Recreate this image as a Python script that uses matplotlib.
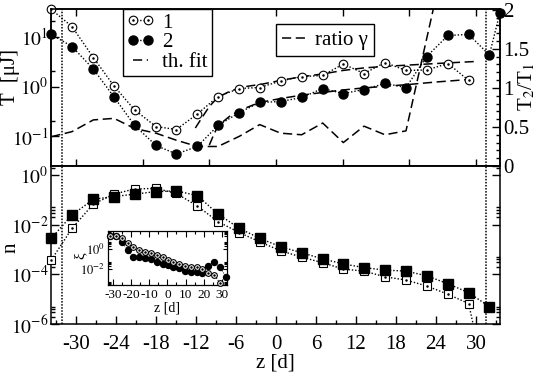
import matplotlib
matplotlib.use('Agg')
import matplotlib.pyplot as plt
import numpy as np
from matplotlib.ticker import FixedLocator, MultipleLocator, FuncFormatter, NullFormatter
from matplotlib.lines import Line2D
from matplotlib.legend_handler import HandlerTuple

plt.rcParams['font.family'] = ['Liberation Serif', 'DejaVu Serif']
plt.rcParams['mathtext.fontset'] = 'stix'
plt.rcParams['axes.unicode_minus'] = False

# ---------------- data ----------------
z = [-33.7, -30.6, -27.4, -24.3, -21.2, -18.0, -14.95, -11.8, -8.7, -5.5, -2.45,
     0.7, 3.85, 7.0, 10.1, 13.2, 16.35, 19.5, 22.6, 25.8, 28.9, 32.0, 33.6]

T1 = [34.7, 15.8, 3.80, 1.02, 0.339, 0.158, 0.138, 0.282, 0.631, 0.912, 0.955,
      1.29, 1.58, 1.66, 2.82, 1.82, 3.02, 2.09, 2.14, 2.88, 1.32]
T2 = [11.0, 6.31, 2.24, 0.617, 0.166, 0.0661, 0.0447, 0.0631, 0.166, 0.302, 0.479,
      0.501, 0.603, 0.912, 0.724, 0.871, 1.15, 0.955, 3.98, 10.5, 11.0, 4.27, 30.2]
ratio = [0.375, 0.44, 0.59, 0.61, 0.48, 0.42, 0.33, 0.25, 0.25, 0.38, 0.53,
         0.42, 0.40, 0.55, 0.30, 0.51, 0.40, 0.45, 1.63, 2.85]

fit1_z = [-12.1, -11.0, -10.0, -8.75, -7.0, -5.0, -2.0, 1.0, 4.0, 7.0, 10.0, 13.0, 16.0, 20.0, 24.0, 29.8]
fit1 = [0.148, 0.251, 0.398, 0.603, 0.794, 0.977, 1.12, 1.35, 1.58, 1.78, 2.09, 2.34, 2.51, 2.69, 2.88, 3.16]
fit2_z = [-10.0, -9.3, -8.65, -7.0, -5.5, -2.5, 0.7, 4.0, 7.0, 10.0, 13.0, 16.0, 20.0, 24.0, 29.8]
fit2 = [0.0676, 0.112, 0.166, 0.251, 0.331, 0.479, 0.575, 0.676, 0.759, 0.851, 0.933, 1.0, 1.10, 1.23, 1.41]

n1 = [3.8e-4, 7.08e-3, 6.76e-2, 0.17, 0.275, 0.288, 0.182, 5.62e-2, 1.32e-2, 4.79e-3, 2.04e-3,
      8.91e-4, 4.9e-4, 2.95e-4, 1.62e-4, 1.35e-4, 7.94e-5, 5.89e-5, 3.39e-5, 1.58e-5, 6.61e-6, 1e-9]
n2 = [2.82e-3, 2.45e-2, 0.105, 0.135, 0.17, 0.214, 0.229, 0.148, 2.69e-2, 7.08e-3, 2.82e-3,
      1.29e-3, 7.41e-4, 4.17e-4, 2.63e-4, 1.86e-4, 1.48e-4, 1.35e-4, 8.71e-5, 4.17e-5, 1.82e-5, 5.01e-6]

zi = [-31.4, -28.1, -25.0, -21.7, -18.8, -15.6, -12.4, -9.3, -6.0, -2.6, 0.5,
      3.3, 6.6, 9.7, 12.9, 16.2, 19.3, 22.6, 25.8, 29.1, 32.2]
xi1 = [20.0, 19.1, 11.7, 3.72, 1.48, 0.794, 0.537, 0.427, 0.251, 0.148, 0.0794,
       0.0468, 0.0295, 0.0214, 0.017, 0.017, 0.00933, 0.00372, 0.00251, 0.000372]
xi2 = [21.4, 21.4, 4.68, 0.794, 0.17, 0.148, 0.135, 0.1, 0.0468, 0.0295, 0.0251,
       0.017, 0.0117, 0.0063, 0.00537, 0.00537, 0.00427, 0.0214, 0.0537, 0.0148, 0.0017]

vlines_z = [-32.1, 31.45]

top_xticks = [-30, -20, -10, 0, 10, 20, 30]

# ---------------- styles ----------------
DOT = (0, (1, 1.4))
DASH = (0, (6, 3))
VDOT = (0, (1, 1))
FS = 15

W, H = 545, 372
fig = plt.figure(figsize=(W / 100, H / 100), dpi=100)

def fr(x0, y0, x1, y1):
    return [x0 / W, 1 - y1 / H, (x1 - x0) / W, (y1 - y0) / H]

ax1 = fig.add_axes(fr(51, 9, 500, 166))
ax3 = fig.add_axes(fr(51, 166, 500, 324))
for a in (ax1, ax3):
    for s in a.spines.values():
        s.set_linewidth(1.1)

XL = (-33.75, 33.6)

def open_markers(ax, x, y, mk, ms, lo=None):
    x = np.asarray(x); y = np.asarray(y)
    m = np.ones(len(x), bool) if lo is None else (y >= lo)
    ax.plot(x[m], y[m], ls='none', marker=mk, mfc='white', mec='k', ms=ms, mew=0.8, clip_on=False, zorder=4)
    ax.plot(x[m], y[m], ls='none', marker='.', ms=1.6, color='k', clip_on=False, zorder=5)

def filled_markers(ax, x, y, mk, ms, lo=None):
    x = np.asarray(x); y = np.asarray(y)
    m = np.ones(len(x), bool) if lo is None else (y >= lo)
    ax.plot(x[m], y[m], ls='none', marker=mk, color='k', ms=ms, clip_on=False, zorder=4)

# ---------------- top panel ----------------
ax1.set_yscale('log')
ax1.set_xlim(*XL)
ax1.set_ylim(0.0257, 35.5)
z1 = z[:len(T1)]
ax1.plot(z1, T1, ls=DOT, color='k', lw=1.0)
ax1.plot(z, T2, ls=DOT, color='k', lw=1.0)
ax1.plot(fit1_z, fit1, ls=DASH, color='k', lw=1.1)
ax1.plot(fit2_z, fit2, ls=DASH, color='k', lw=1.1)
open_markers(ax1, z1, T1, 'o', 6.2)
filled_markers(ax1, z, T2, 'o', 6.5)
for v in vlines_z:
    ax1.axvline(v, ls=VDOT, color='k', lw=1.1)

ax1.xaxis.set_major_locator(FixedLocator(top_xticks))
ax1.xaxis.set_minor_locator(FixedLocator([]))
ax1.tick_params(axis='x', which='major', direction='in', top=True, bottom=True,
                length=5, width=1, labelbottom=False)
ax1.yaxis.set_major_locator(FixedLocator([1e-2, 1e-1, 1, 10, 100]))
ax1.yaxis.set_minor_locator(FixedLocator([2e-2, 2e-1, 2, 20]))
ax1.yaxis.set_major_formatter(FuncFormatter(lambda v, p: r'$10^{%d}$' % round(np.log10(v))))
ax1.yaxis.set_minor_formatter(NullFormatter())
ax1.tick_params(axis='y', which='major', direction='in', length=6, width=1, labelsize=14, pad=2)
ax1.tick_params(axis='y', which='minor', direction='in', length=3, width=1)
ax1.set_ylabel('T  [μJ]', fontsize=FS)
ax1.yaxis.set_label_coords(-0.068, 0.57)

ax2 = ax1.twinx()
ax2.set_ylim(0, 2.01)
ax2.set_xlim(*XL)
ax2.plot(z[:len(ratio)], ratio, ls=DASH, color='k', lw=1.1)
ax2.yaxis.set_major_locator(MultipleLocator(0.5))
ax2.yaxis.set_minor_locator(MultipleLocator(0.1))
ax2.yaxis.set_major_formatter(FuncFormatter(lambda v, p: '%g' % v))
ax2.tick_params(axis='y', which='major', direction='in', length=6, width=1, labelsize=FS, pad=2)
ax2.tick_params(axis='y', which='minor', direction='in', length=3, width=1)
ax2.set_ylabel(r'T$_2$/T$_1$', fontsize=FS)
ax2.yaxis.set_label_coords(1.036, 0.5)
for s in ax2.spines.values():
    s.set_linewidth(1.1)

# legends
h1 = (Line2D([], [], ls=DOT, color='k', lw=1.0, marker='o', mfc='white', mec='k', ms=6.2, mew=0.8),
      Line2D([], [], ls='none', marker='.', color='k', ms=1.6))
h2 = Line2D([], [], ls=DOT, color='k', lw=1.0, marker='o', ms=6.5)
h3 = Line2D([], [], ls=DASH, color='k', lw=1.1)
leg1 = ax1.legend([h1, h2, h3], ['1', '2', 'th. fit'],
                  handler_map={tuple: HandlerTuple(ndivide=1, pad=0)},
                  loc='upper left', bbox_to_anchor=((122.7 - 51) / 449, 1.0),
                  borderaxespad=0, numpoints=2, fontsize=FS, handlelength=1.3,
                  handletextpad=0.4, labelspacing=0.0, borderpad=0.2,
                  fancybox=False, framealpha=1, edgecolor='k')
leg1.get_frame().set_linewidth(1.0)
h4 = Line2D([], [], ls=DASH, color='k', lw=1.1)
leg2 = ax2.legend([h4], ['ratio γ'], loc='upper left',
                  bbox_to_anchor=((275.7 - 51) / 449, (166 - 24) / 157),
                  borderaxespad=0, fontsize=FS, handlelength=1.1, handletextpad=0.5,
                  borderpad=0.3, fancybox=False, framealpha=1, edgecolor='k')
leg2.get_frame().set_linewidth(1.0)

# ---------------- bottom panel ----------------
ax3.set_yscale('log')
ax3.set_xlim(*XL)
NLO, NHI = 1e-6, 2.3
ax3.set_ylim(NLO, NHI)
ax3.plot(z[:len(n1)], n1, ls=DOT, color='k', lw=1.0)
ax3.plot(z[:len(n2)], n2, ls=DOT, color='k', lw=1.0)
open_markers(ax3, z[:len(n1)], n1, 's', 6.0, lo=NLO)
filled_markers(ax3, z[:len(n2)], n2, 's', 7.2, lo=NLO)
for v in vlines_z:
    ax3.axvline(v, ls=VDOT, color='k', lw=1.1)
ax3.xaxis.set_major_locator(MultipleLocator(6))
ax3.xaxis.set_minor_locator(MultipleLocator(3))
ax3.tick_params(axis='x', which='major', direction='in', length=6, width=1, labelsize=FS, pad=8)
ax3.tick_params(axis='x', which='minor', direction='in', length=3, width=1)
ax3.yaxis.set_major_locator(FixedLocator([1e-6, 1e-4, 1e-2, 1]))
ax3.yaxis.set_minor_locator(FixedLocator([k * 10.0 ** e for e in (-6, -4, -2, 0) for k in (2, 3, 4, 5)]))
ax3.yaxis.set_major_formatter(FuncFormatter(lambda v, p: r'$10^{%d}$' % round(np.log10(v))))
ax3.yaxis.set_minor_formatter(NullFormatter())
ax3.tick_params(axis='y', which='major', direction='in', length=6, width=1, labelsize=14, pad=2,
                left=True, right=True)
ax3.tick_params(axis='y', which='minor', direction='in', length=3, width=1, left=True, right=True)
ax3.set_ylabel('n', fontsize=FS)
ax3.yaxis.set_label_coords(-0.068, 0.48)
ax3.set_xlabel('z [d]', fontsize=FS)
ax3.xaxis.set_label_coords(0.5, -0.185)

# ---------------- inset ----------------
ax4 = fig.add_axes(fr(107.5, 231, 227.3, 285))
for s in ax4.spines.values():
    s.set_linewidth(0.9)
ax4.set_yscale('log')
ax4.set_xlim(-33, 33)
ax4.set_ylim(10 ** -3.6, 10 ** 1.8)
ax4.plot(zi[:len(xi1)], xi1, ls=DOT, color='k', lw=0.7)
ax4.plot(zi, xi2, ls=DOT, color='k', lw=0.7)
filled_markers(ax4, zi, xi2, 'o', 4.3)
open_markers(ax4, zi[:len(xi1)], xi1, 'o', 4.1)
ax4.xaxis.set_major_locator(MultipleLocator(10))
ax4.xaxis.set_minor_locator(MultipleLocator(5))
ax4.tick_params(axis='x', which='major', direction='in', length=4, width=0.8, labelsize=9.5,
                top=True, bottom=True, pad=3)
ax4.tick_params(axis='x', which='minor', direction='in', length=2, width=0.8, top=True, bottom=True)
ax4.yaxis.set_major_locator(FixedLocator([1e-4, 1e-2, 1, 100]))
ax4.yaxis.set_minor_locator(FixedLocator([k * 10.0 ** e for e in (-4, -2, 0, 1) for k in (2, 3, 4, 5)]))
ax4.yaxis.set_major_formatter(FuncFormatter(lambda v, p: r'$10^{%d}$' % round(np.log10(v))))
ax4.yaxis.set_minor_formatter(NullFormatter())
ax4.tick_params(axis='y', which='major', direction='in', length=3, width=0.8, labelsize=9,
                left=True, right=True, pad=2)
ax4.tick_params(axis='y', which='minor', direction='in', length=2, width=0.8, left=True, right=True)
ax4.set_xlabel('z [d]', fontsize=10, labelpad=0)
ax4.set_ylabel('ξ', fontsize=11)
ax4.yaxis.set_label_coords(-0.17, 0.55)

fig.savefig('out.png', dpi=100)
